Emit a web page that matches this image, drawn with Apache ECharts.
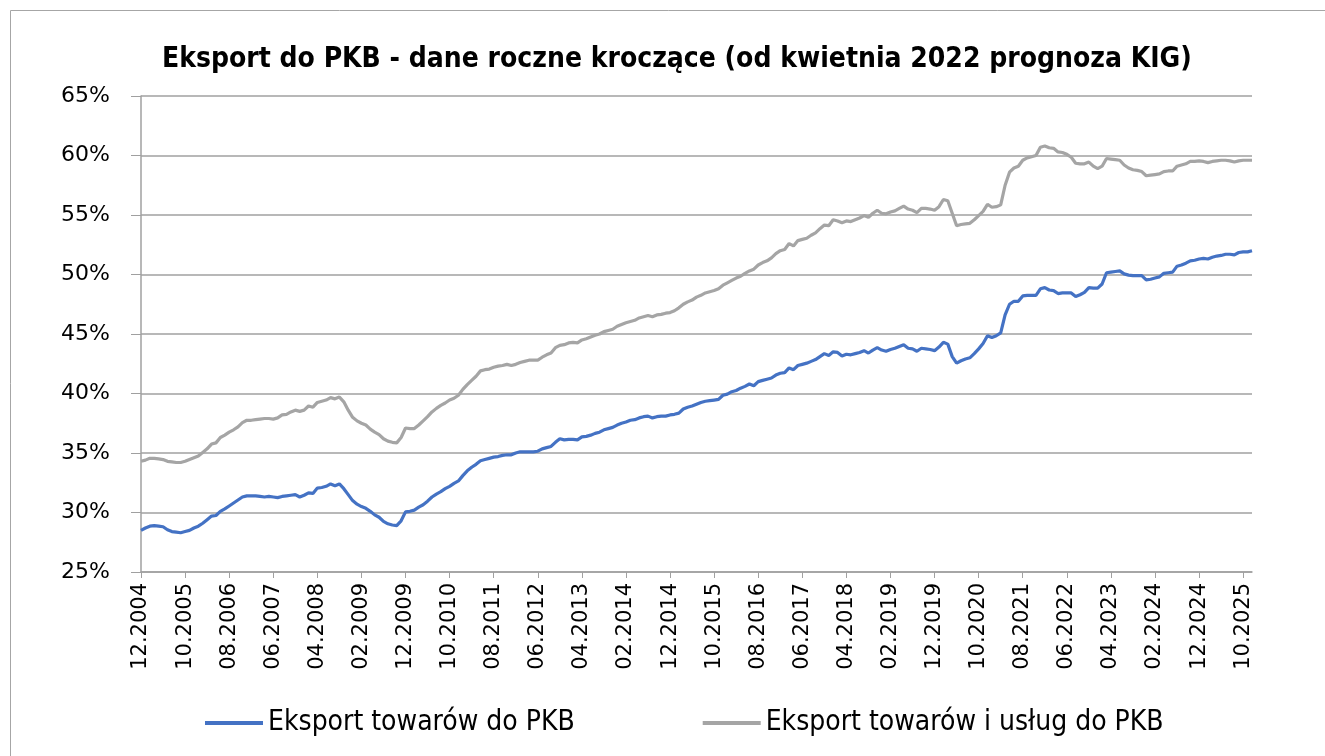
<!doctype html>
<html>
<head>
    <meta charset="utf-8">
    <title>Eksport do PKB</title>
    <script src="https://cdn.jsdelivr.net/npm/echarts@6/dist/echarts.min.js"></script>
    <style>
        body { margin: 0; background: #fff; }
        #container { width: 1325px; height: 756px; }
    </style>
</head>
<body>
    <div id="container"></div>
    <script type="text/javascript">
        // miesiące: od 12.2004 do 12.2025
        var startYear = 2004, startMonth = 12, monthCount = 253;

        var yTicks = [25, 30, 35, 40, 45, 50, 55, 60, 65];

        // Eksport towarów do PKB (%)
        var towary = [
            28.5, 28.7, 28.85, 28.9, 28.85, 28.8, 28.55, 28.4, 28.35, 28.3,
            28.4, 28.5, 28.7, 28.85, 29.1, 29.4, 29.7, 29.75, 30.1, 30.3,
            30.55, 30.8, 31.05, 31.3, 31.4, 31.4, 31.4, 31.35, 31.3, 31.35,
            31.3, 31.25, 31.35, 31.4, 31.45, 31.5, 31.3, 31.45, 31.65, 31.6,
            32.05, 32.1, 32.2, 32.4, 32.25, 32.4, 32.0, 31.5, 31.0, 30.7,
            30.5, 30.35, 30.1, 29.8, 29.6, 29.25, 29.05, 28.95, 28.9, 29.3,
            30.05, 30.1, 30.2, 30.45, 30.65, 30.95, 31.3, 31.55, 31.75, 32.0,
            32.2, 32.45, 32.65, 33.1, 33.5, 33.8, 34.05, 34.35, 34.45, 34.55,
            34.65, 34.7, 34.8, 34.85, 34.85, 35.0, 35.1, 35.1, 35.1, 35.1,
            35.15, 35.35, 35.45, 35.55, 35.9, 36.2, 36.1, 36.15, 36.15, 36.1,
            36.35, 36.4, 36.5, 36.65, 36.75, 36.95, 37.05, 37.15, 37.35, 37.5,
            37.6, 37.75, 37.8, 37.95, 38.05, 38.1, 37.95, 38.05, 38.1, 38.1,
            38.2, 38.25, 38.35, 38.7, 38.85, 38.95, 39.1, 39.25, 39.35, 39.4,
            39.45, 39.5, 39.85, 39.95, 40.15, 40.25, 40.45, 40.6, 40.8, 40.65,
            41.0, 41.1, 41.2, 41.3, 41.55, 41.7, 41.75, 42.15, 42.0, 42.35,
            42.45, 42.55, 42.7, 42.85, 43.1, 43.35, 43.2, 43.5, 43.45, 43.15,
            43.3, 43.25, 43.35, 43.45, 43.6, 43.4, 43.65, 43.85, 43.65, 43.55,
            43.7, 43.8, 43.95, 44.1, 43.8, 43.75, 43.55, 43.8, 43.75, 43.7,
            43.6, 43.9, 44.3, 44.15, 43.1, 42.55, 42.75, 42.9, 43.0, 43.35,
            43.75, 44.2, 44.85, 44.7, 44.85, 45.1, 46.6, 47.5, 47.75, 47.75,
            48.2, 48.25, 48.25, 48.25, 48.8, 48.9, 48.7, 48.65, 48.4, 48.45,
            48.45, 48.45, 48.15, 48.3, 48.5, 48.9, 48.85, 48.85, 49.2, 50.15,
            50.2, 50.25, 50.3, 50.05, 49.95, 49.9, 49.9, 49.9, 49.55, 49.6,
            49.7, 49.8, 50.1, 50.15, 50.2, 50.7, 50.8, 50.95, 51.15, 51.2,
            51.3, 51.35, 51.3, 51.45, 51.55, 51.6, 51.7, 51.7, 51.65, 51.85,
            51.9, 51.9, 52.0
        ];

        // Eksport towarów i usług do PKB (%)
        var towaryUslugi = [
            34.3, 34.4, 34.55, 34.55, 34.5, 34.45, 34.3, 34.25, 34.2, 34.2,
            34.3, 34.45, 34.6, 34.75, 35.05, 35.35, 35.75, 35.85, 36.3, 36.5,
            36.75, 36.95, 37.2, 37.55, 37.75, 37.75, 37.8, 37.85, 37.9, 37.9,
            37.85, 37.95, 38.2, 38.25, 38.45, 38.6, 38.5, 38.6, 38.95, 38.85,
            39.25, 39.35, 39.45, 39.65, 39.55, 39.7, 39.3, 38.6, 38.0, 37.7,
            37.5, 37.35, 37.0, 36.75, 36.55, 36.2, 36.0, 35.9, 35.85, 36.3,
            37.1, 37.05, 37.05, 37.35, 37.7, 38.05, 38.45, 38.75, 39.0, 39.2,
            39.45, 39.6, 39.85, 40.35, 40.75, 41.1, 41.45, 41.9, 42.0, 42.05,
            42.2, 42.3, 42.35, 42.45, 42.35, 42.45, 42.6, 42.7, 42.8, 42.8,
            42.8, 43.05, 43.25, 43.4, 43.85, 44.05, 44.1, 44.25, 44.3, 44.25,
            44.5, 44.6, 44.75, 44.9, 45.0, 45.2, 45.3, 45.4, 45.65, 45.8,
            45.95, 46.05, 46.15, 46.35, 46.45, 46.55, 46.45, 46.6, 46.65, 46.75,
            46.8, 46.95, 47.2, 47.5, 47.7, 47.85, 48.1, 48.25, 48.45, 48.55,
            48.65, 48.8, 49.1, 49.3, 49.5, 49.7, 49.85, 50.1, 50.3, 50.45,
            50.8, 51.0, 51.15, 51.4, 51.75, 52.0, 52.1, 52.6, 52.4, 52.85,
            52.95, 53.05, 53.3, 53.5, 53.85, 54.15, 54.1, 54.6, 54.5, 54.35,
            54.5, 54.45, 54.6, 54.75, 54.95, 54.8, 55.15, 55.4, 55.15, 55.1,
            55.25, 55.35, 55.55, 55.75, 55.5, 55.4, 55.2, 55.55, 55.55, 55.5,
            55.4, 55.7, 56.3, 56.2, 55.15, 54.1, 54.2, 54.25, 54.3, 54.6,
            54.95, 55.3, 55.9, 55.65, 55.7, 55.85, 57.5, 58.6, 58.95, 59.1,
            59.6, 59.8, 59.9, 60.0, 60.7, 60.8, 60.65, 60.6, 60.3, 60.25,
            60.1, 59.85, 59.35, 59.3, 59.3, 59.45, 59.1, 58.9, 59.1, 59.75,
            59.7, 59.65, 59.6, 59.2, 58.95, 58.8, 58.75, 58.65, 58.3, 58.35,
            58.4, 58.45, 58.65, 58.7, 58.7, 59.1, 59.2, 59.3, 59.5, 59.5,
            59.55, 59.5, 59.4, 59.5, 59.55, 59.6, 59.6, 59.55, 59.45, 59.55,
            59.6, 59.6, 59.6
        ];

        // etykiety osi X (mm.rrrr)
        var months = [];
        for (var k = 0; k < monthCount; k++) {
            var m = (startMonth - 1 + k) % 12 + 1;
            var y = startYear + Math.floor((startMonth - 1 + k) / 12);
            months.push((m < 10 ? '0' + m : '' + m) + '.' + y);
        }

        var option = {
            backgroundColor: '#fff',
            animation: false,
            title: {
                text: 'Eksport do PKB - dane roczne kroczące (od kwietnia 2022 prognoza KIG)',
                left: 157,
                top: 41,
                textStyle: {
                    fontFamily: '"DejaVu Sans Condensed", sans-serif',
                    fontSize: 28,
                    fontWeight: 'bold',
                    color: '#000'
                }
            },
            graphic: [{
                type: 'rect',
                shape: { x: 10.5, y: 10.5, width: 1400, height: 800 },
                style: { fill: 'none', stroke: '#a6a6a6', lineWidth: 1 },
                silent: true
            }],
            legend: {
                left: 200,
                top: 704,
                icon: 'rect',
                itemWidth: 58,
                itemHeight: 4,
                itemGap: 128,
                textStyle: {
                    fontFamily: '"DejaVu Sans Condensed", sans-serif',
                    fontSize: 28,
                    color: '#000'
                },
                data: ['Eksport towarów do PKB', 'Eksport towarów i usług do PKB']
            },
            grid: {
                left: 141,
                right: 73,
                top: 96,
                bottom: 184,
                containLabel: false
            },
            xAxis: {
                type: 'category',
                boundaryGap: false,
                data: months,
                axisLine: { lineStyle: { color: '#a0a0a0', width: 1.5 } },
                axisTick: { interval: 9, length: 6, lineStyle: { color: '#a0a0a0' } },
                axisLabel: {
                    interval: 9,
                    rotate: 90,
                    margin: 11,
                    fontFamily: '"DejaVu Sans", sans-serif',
                    fontSize: 21,
                    color: '#000'
                },
                splitLine: { show: false }
            },
            yAxis: {
                type: 'value',
                min: yTicks[0],
                max: yTicks[yTicks.length - 1],
                interval: 5,
                axisLine: { show: true, lineStyle: { color: '#a0a0a0', width: 1.5 } },
                axisTick: { show: true, length: 10, lineStyle: { color: '#a0a0a0' } },
                axisLabel: {
                    formatter: '{value}%',
                    margin: 31,
                    fontFamily: '"DejaVu Sans", sans-serif',
                    fontSize: 22,
                    color: '#000'
                },
                splitLine: { lineStyle: { color: '#a0a0a0', width: 1.5 } }
            },
            series: [
                {
                    name: 'Eksport towarów do PKB',
                    type: 'line',
                    data: towary,
                    showSymbol: false,
                    color: '#4472C4',
                    lineStyle: { width: 3.2, color: '#4472C4' }
                },
                {
                    name: 'Eksport towarów i usług do PKB',
                    type: 'line',
                    data: towaryUslugi,
                    showSymbol: false,
                    color: '#A5A5A5',
                    lineStyle: { width: 3.2, color: '#A5A5A5' }
                }
            ]
        };

        var myChart = echarts.init(document.getElementById('container'));
        myChart.setOption(option);
    </script>
</body>
</html>
